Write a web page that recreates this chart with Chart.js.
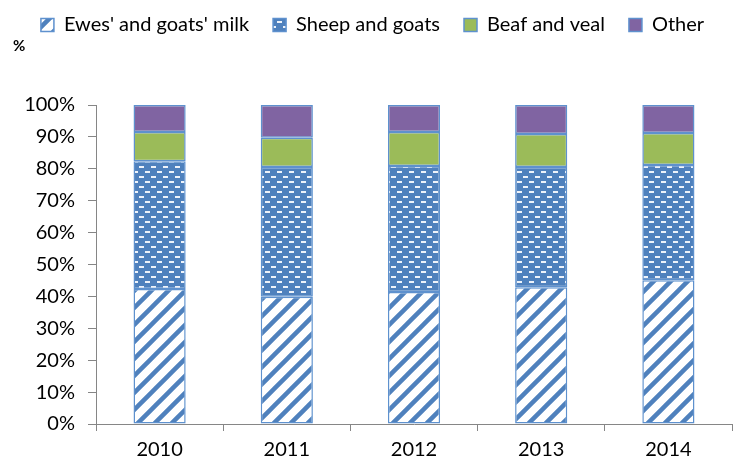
<!DOCTYPE html>
<html>
<head>
<meta charset="utf-8">
<title>Share by product</title>
<script src="https://cdn.jsdelivr.net/npm/chart.js@4.4.1/dist/chart.umd.min.js"></script>
<style>
    html, body { margin: 0; padding: 0; background: #fff; }
    #wrap { width: 733px; height: 462px; }
</style>
</head>
<body>
<div id="wrap"><canvas id="shareChart" width="733" height="462"></canvas></div>
<script>
// Years and shares (%) per product group
const years = ['2010', '2011', '2012', '2013', '2014'];
const ewesGoatsMilk = [42.3, 39.9, 41.4, 42.9, 45.1];
const sheepGoats = [40.1, 40.7, 39.5, 37.7, 36.1];
const beafVeal = [9.1, 9.1, 10.6, 10.3, 10.0];
const other = [8.5, 10.3, 8.5, 9.1, 8.8];
const seriesNames = ["Ewes' and goats' milk", 'Sheep and goats', 'Beaf and veal', 'Other'];

const BLUE = '#4F81BD';
const FONT = "Lato, 'Open Sans', sans-serif";

// White background with blue "/" stripes
function stripePattern() {
    const c = document.createElement('canvas');
    c.width = 17; c.height = 17;
    const g = c.getContext('2d');
    g.fillStyle = '#fff';
    g.fillRect(0, 0, 17, 17);
    g.strokeStyle = BLUE;
    g.lineWidth = 4.5;
    g.beginPath();
    for (let k = -1; k <= 1; k++) {
        g.moveTo(k * 17 - 2, 19);
        g.lineTo(k * 17 + 19, -2);
    }
    g.stroke();
    return g.createPattern(c, 'repeat');
}

// Blue background with staggered white dashes
function dashPattern() {
    const c = document.createElement('canvas');
    c.width = 12; c.height = 10;
    const g = c.getContext('2d');
    g.fillStyle = BLUE;
    g.fillRect(0, 0, 12, 10);
    g.fillStyle = '#EEF3FA';
    g.fillRect(1, 1, 5, 2);
    g.fillRect(7, 6, 5, 2);
    return g.createPattern(c, 'repeat');
}

const fills = [stripePattern(), dashPattern(), '#9BBB59', '#8064A2'];
const values = [ewesGoatsMilk, sheepGoats, beafVeal, other];

const ctx = document.getElementById('shareChart');

new Chart(ctx, {
    type: 'bar',
    data: {
        labels: years,
        datasets: values.map((v, i) => ({
            label: seriesNames[i],
            data: v,
            backgroundColor: fills[i],
            borderColor: '#5E91CE',
            borderWidth: 1.5,
            borderSkipped: false,
            barPercentage: 0.82,
            categoryPercentage: 0.5
        }))
    },
    options: {
        responsive: false,
        animation: false,
        layout: { padding: { left: 13, right: 1, top: -9, bottom: 0 } },
        plugins: {
            legend: {
                position: 'top',
                labels: {
                    boxWidth: 13,
                    boxHeight: 13,
                    padding: 24,
                    color: '#000',
                    font: { family: FONT, size: 20 }
                }
            },
            title: {
                display: true,
                text: '%',
                align: 'start',
                weight: 500,
                color: '#000',
                font: { family: FONT, size: 15, weight: 'bold' },
                padding: { top: -8, bottom: 50 }
            },
            tooltip: { enabled: false }
        },
        scales: {
            x: {
                stacked: true,
                grid: { drawOnChartArea: false, color: '#868686', tickLength: 7, offset: true },
                border: { color: '#868686', width: 1 },
                ticks: { color: '#000', font: { family: FONT, size: 20 }, padding: 7 },
                afterFit: s => { s.height = 38; }
            },
            y: {
                stacked: true,
                min: 0,
                max: 100,
                grid: { drawOnChartArea: false, color: '#868686', tickLength: 8 },
                border: { color: '#868686', width: 1 },
                ticks: {
                    stepSize: 10,
                    color: '#000',
                    font: { family: FONT, size: 20 },
                    padding: 13,
                    callback: v => v + '%'
                },
                afterFit: s => { s.width = 83; }
            }
        }
    }
});
</script>
</body>
</html>
